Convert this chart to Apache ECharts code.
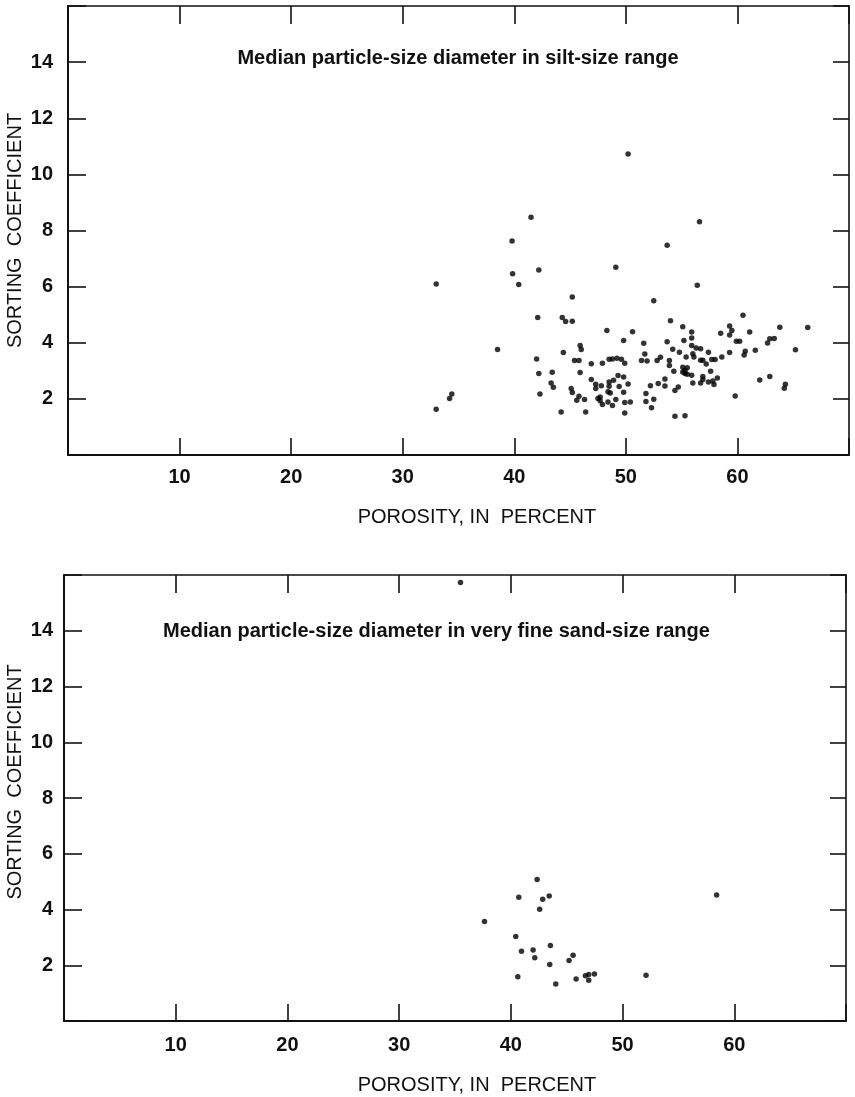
<!DOCTYPE html>
<html>
<head>
<meta charset="utf-8">
<script src="https://cdn.jsdelivr.net/npm/echarts@6/dist/echarts.min.js"></script>
<style>
  html, body { margin: 0; padding: 0; background: #fff; }
  #chart { width: 855px; height: 1097px; }
</style>
</head>
<body>
<div id="chart"></div>
<script>
// ---- Data ----
// Upper panel: median particle-size diameter in silt-size range
const siltPorosity = [
  39.8, 53.7, 49.1, 33.0, 39.85, 40.4, 42.2, 56.4, 45.2, 52.5,
  42.1, 44.3, 44.6, 45.2, 60.5, 54.0, 55.1, 59.3, 63.8, 66.3,
  48.3, 50.6, 55.9, 59.5, 58.5, 61.1, 59.3, 55.9, 62.9, 63.3,
  49.8, 55.2, 59.9, 60.2, 62.7, 51.6, 53.7, 38.5, 45.9, 46.0,
  54.2, 55.9, 56.3, 56.7, 65.2, 61.6, 60.7, 60.6, 57.4, 56.0,
  56.1, 54.8, 51.7, 59.3, 58.6, 44.4, 42.0, 45.4, 45.8, 46.9,
  47.9, 48.5, 48.8, 49.2, 49.6, 49.9, 51.4, 51.9, 52.8, 53.1,
  53.9, 53.9, 55.4, 56.7, 56.9, 57.7, 58.0, 57.2, 54.3, 55.1,
  55.3, 55.5, 55.1, 55.3, 55.5, 55.9, 57.6, 58.2, 56.9, 56.9,
  56.7, 57.4, 57.8, 57.9, 56.0, 53.5, 53.5, 52.9, 52.2, 54.7,
  54.4, 62.0, 62.9, 64.3, 64.2, 59.8, 51.8, 51.8, 52.5, 52.3,
  54.4, 55.3, 49.9, 46.4, 44.2, 33.0, 34.2, 34.4, 42.2, 43.4,
  43.3, 43.5, 42.3, 45.9, 46.9, 47.3, 47.3, 47.8, 48.5, 48.5,
  48.9, 49.3, 49.8, 49.4, 50.2, 49.8, 45.1, 45.2, 45.8, 45.6,
  46.3, 47.5, 47.7, 47.7, 47.9, 48.4, 48.6, 48.4, 48.8, 49.1,
  49.9, 50.4, 50.2, 41.5, 56.6
];
const siltSorting = [
  7.63, 7.47, 6.69, 6.09, 6.46, 6.08, 6.59, 6.05, 5.63, 5.50,
  4.90, 4.90, 4.76, 4.77, 4.98, 4.78, 4.57, 4.60, 4.55, 4.54,
  4.44, 4.39, 4.38, 4.44, 4.34, 4.38, 4.28, 4.17, 4.14, 4.15,
  4.08, 4.08, 4.05, 4.05, 3.99, 3.98, 4.04, 3.76, 3.90, 3.76,
  3.77, 3.90, 3.81, 3.79, 3.75, 3.73, 3.70, 3.56, 3.66, 3.61,
  3.49, 3.66, 3.60, 3.65, 3.49, 3.65, 3.42, 3.37, 3.37, 3.25,
  3.27, 3.41, 3.42, 3.45, 3.41, 3.27, 3.37, 3.35, 3.37, 3.48,
  3.37, 3.19, 3.49, 3.38, 3.38, 3.40, 3.40, 3.24, 2.98, 3.13,
  3.02, 3.11, 2.96, 2.90, 2.88, 2.84, 2.98, 2.74, 2.80, 2.69,
  2.57, 2.60, 2.64, 2.51, 2.57, 2.71, 2.46, 2.55, 2.47, 2.42,
  2.30, 2.67, 2.80, 2.52, 2.38, 2.10, 2.19, 1.91, 1.99, 1.68,
  1.38, 1.40, 1.50, 1.53, 1.53, 1.63, 2.01, 2.17, 2.90, 2.95,
  2.57, 2.41, 2.17, 2.94, 2.69, 2.52, 2.37, 2.47, 2.60, 2.45,
  2.66, 2.83, 2.78, 2.44, 2.53, 2.24, 2.37, 2.23, 2.09, 1.95,
  1.98, 2.01, 2.07, 1.93, 1.80, 2.25, 2.21, 1.89, 1.76, 1.98,
  1.87, 1.89, 10.73, 8.47, 8.31
];

// Lower panel: median particle-size diameter in very fine sand-size range
const sandPorosity = [
  42.35, 40.71, 42.85, 43.43, 42.58, 37.64, 58.42, 40.44, 41.99, 40.95,
  43.54, 42.14, 43.48, 45.57, 45.21, 40.62, 44.02, 45.84, 46.67, 46.97,
  46.97, 47.48, 52.10, 35.49
];
const sandSorting = [
  5.08, 4.44, 4.37, 4.48, 4.01, 3.57, 4.52, 3.03, 2.55, 2.50,
  2.71, 2.27, 2.03, 2.36, 2.17, 1.59, 1.33, 1.51, 1.62, 1.67,
  1.46, 1.69, 1.64, 15.73
];

// Tick labels and texts
const xTickLabels = ['10', '20', '30', '40', '50', '60'];
const yTickLabels = ['2', '4', '6', '8', '10', '12', '14'];
const xAxisTitle = 'POROSITY, IN  PERCENT';
const yAxisTitle = 'SORTING  COEFFICIENT';
const panelNotes = [
  'Median particle-size diameter in silt-size range',
  'Median particle-size diameter in very fine sand-size range'
];

// ---- Chart ----
const FONT = '"Liberation Sans", Arial, Helvetica, sans-serif';
const chart = echarts.init(document.getElementById('chart'), null, { renderer: 'canvas' });

const grids = [
  { left: 68, top: 6, width: 781, height: 449, outerBoundsMode: 'none', containLabel: false },
  { left: 64, top: 575, width: 782, height: 446, outerBoundsMode: 'none', containLabel: false }
];

function xFmt(v) { const s = String(v); return xTickLabels.indexOf(s) >= 0 ? s : ''; }
function yFmt(v) { const s = String(v); return yTickLabels.indexOf(s) >= 0 ? s : ''; }

const lineStyle = { color: '#111', width: 2 };

function makeXAxes(gi, labelMargin, nameGap, namePadLeft) {
  return [
    {
      type: 'value', gridIndex: gi, position: 'bottom', min: 0, max: 70, interval: 10,
      axisLine: { show: true, onZero: false, lineStyle: lineStyle },
      axisTick: { show: true, inside: true, length: 17, lineStyle: { color: '#111', width: 1.6 } },
      axisLabel: { show: true, margin: labelMargin, formatter: xFmt, color: '#111',
        fontFamily: FONT, fontSize: 20, fontWeight: 'bold' },
      splitLine: { show: false },
      name: xAxisTitle, nameLocation: 'middle', nameGap: nameGap, nameMoveOverlap: false,
      nameTextStyle: { fontFamily: FONT, fontSize: 20, color: '#111', padding: [0, 0, 0, namePadLeft] }
    },
    {
      type: 'value', gridIndex: gi, position: 'top', min: 0, max: 70, interval: 10,
      axisLine: { show: true, onZero: false, lineStyle: { color: '#111', width: 1.6 } },
      axisTick: { show: true, inside: true, length: 18, lineStyle: { color: '#111', width: 1.6 } },
      axisLabel: { show: false },
      splitLine: { show: false }
    }
  ];
}

function makeYAxes(gi, labelMargin, nameGap, namePadLeft) {
  return [
    {
      type: 'value', gridIndex: gi, position: 'left', min: 0, max: 16, interval: 2,
      axisLine: { show: true, onZero: false, lineStyle: lineStyle },
      axisTick: { show: true, inside: true, length: 18, lineStyle: { color: '#111', width: 1.6 } },
      axisLabel: { show: true, margin: labelMargin, formatter: yFmt, color: '#111',
        fontFamily: FONT, fontSize: 20, fontWeight: 'bold' },
      splitLine: { show: false },
      name: yAxisTitle, nameLocation: 'middle', nameGap: nameGap, nameMoveOverlap: false,
      nameTextStyle: { fontFamily: FONT, fontSize: 20, color: '#111', padding: [0, 0, 0, namePadLeft] }
    },
    {
      type: 'value', gridIndex: gi, position: 'right', min: 0, max: 16, interval: 2,
      axisLine: { show: true, onZero: false, lineStyle: { color: '#111', width: 1.6 } },
      axisTick: { show: true, inside: true, length: 16, lineStyle: { color: '#111', width: 1.6 } },
      axisLabel: { show: false },
      splitLine: { show: false }
    }
  ];
}

const xAxes = makeXAxes(0, 12, 52, 37).concat(makeXAxes(1, 14, 54, 44));
const yAxes = makeYAxes(0, 15, 43, 0).concat(makeYAxes(1, 11, 39, 32));

function pairs(xs, ys) { return xs.map((x, i) => [x, ys[i]]); }

const option = {
  backgroundColor: '#ffffff',
  animation: false,
  grid: grids,
  xAxis: xAxes,
  yAxis: yAxes,
  graphic: [
    { type: 'text', x: 458, y: 58,
      style: { text: panelNotes[0], textAlign: 'center', textVerticalAlign: 'middle',
        font: 'bold 20px ' + FONT, fill: '#111' } },
    { type: 'text', x: 163, y: 631,
      style: { text: panelNotes[1], textAlign: 'left', textVerticalAlign: 'middle',
        font: 'bold 20px ' + FONT, fill: '#111' } }
  ],
  series: [
    {
      name: 'Silt-size range', type: 'scatter', xAxisIndex: 0, yAxisIndex: 0,
      symbol: 'circle', symbolSize: 5.5, itemStyle: { color: '#000' },
      data: pairs(siltPorosity, siltSorting)
    },
    {
      name: 'Very fine sand-size range', type: 'scatter', xAxisIndex: 2, yAxisIndex: 2,
      symbol: 'circle', symbolSize: 5.5, itemStyle: { color: '#000' },
      data: pairs(sandPorosity, sandSorting)
    }
  ]
};
chart.setOption(option);
</script>
</body>
</html>
